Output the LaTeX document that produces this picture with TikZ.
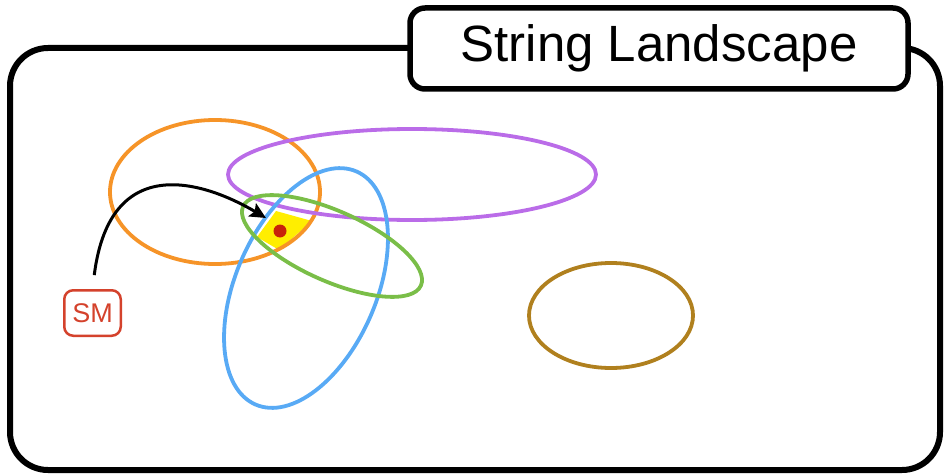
\documentclass[tikz,border=0pt]{standalone}
\usepackage{fontspec}
\setmainfont{Liberation Sans}
\usetikzlibrary{arrows.meta}
\definecolor{cOrange}{RGB}{246,148,40}
\definecolor{cPurple}{RGB}{186,108,232}
\definecolor{cGreen}{RGB}{122,190,72}
\definecolor{cBlue}{RGB}{88,170,245}
\definecolor{cBrown}{RGB}{176,128,30}
\definecolor{cYellow}{RGB}{255,238,0}
\definecolor{cRed}{RGB}{200,35,10}
\definecolor{cSM}{RGB}{212,66,44}
\begin{document}
\begin{tikzpicture}[x=1pt,y=-1pt,
  frame/.style={line width=6pt, rounded corners=38pt},
  titlebox/.style={draw, fill=white, line width=5.5pt, rounded corners=15pt,
    minimum width=498pt, minimum height=81pt, inner sep=0pt,
    font=\fontsize{51}{51}\selectfont},
  smbox/.style={draw=cSM, text=cSM, line width=2.5pt, rounded corners=9pt,
    minimum width=56.5pt, minimum height=45.5pt, inner sep=0pt,
    font=\fontsize{27}{27}\selectfont},
  region/.style={line width=3.8pt},
  dotnode/.style={circle, fill=cRed, minimum size=13pt, inner sep=0pt},
  pointer/.style={line width=3pt, -{Stealth[length=16pt,width=15pt,inset=3pt]}}
]
\useasboundingbox (0,0) rectangle (944,476);
% outer frame
\draw[frame] (10,48) rectangle (940,470);
\node[titlebox] (title) at (659,48.5) {String Landscape};
% highlighted overlap region
\fill[cYellow] (257,237) -- (276,211) -- (312,221) -- (279,250) -- cycle;
% ellipses
\draw[region, cOrange] (215,192) ellipse (105 and 72);
\draw[region, cPurple] (412,174.5) ellipse (184 and 45.5);
\draw[region, cBlue, rotate around={66.6:(306,288)}] (306,288) ellipse (127 and 70.4);
\draw[region, cGreen, rotate around={-24:(332,246)}] (332,246) ellipse (97.3 and 35);
\draw[region, cBrown] (611,315.5) ellipse (82 and 52.5);
% point and label
\node[dotnode] (dot) at (280,231) {};
\node[smbox] (SM) at (92.5,313) {SM};
\coordinate (tip) at (266,218);
\draw[pointer, shorten <=14pt] (SM.north) .. controls (110,150) and (205,182) .. (tip);
\end{tikzpicture}
\end{document}
